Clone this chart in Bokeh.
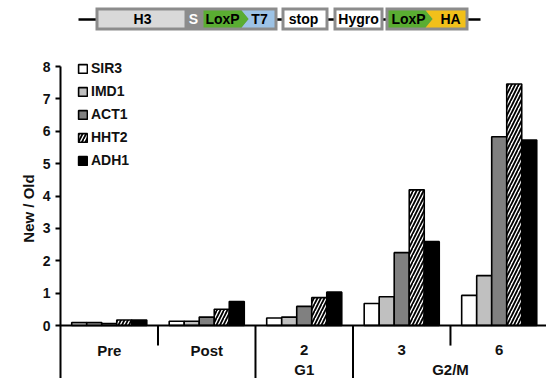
from bokeh.plotting import figure
from bokeh.models import Range1d, FixedTicker, Legend, LegendItem
from bokeh.layouts import column
from bokeh.core.properties import value
from bokeh.embed import file_html
from bokeh.resources import INLINE

# ---------------- data ----------------
groups = ["Pre", "Post", "2", "3", "6"]
phases = ["", "", "G1", "G2/M", "G2/M"]
series_names = ["SIR3", "IMD1", "ACT1", "HHT2", "ADH1"]
SIR3 = [0.09, 0.13, 0.23, 0.68, 0.93]
IMD1 = [0.09, 0.13, 0.26, 0.89, 1.54]
ACT1 = [0.06, 0.26, 0.59, 2.25, 5.83]
HHT2 = [0.17, 0.50, 0.86, 4.19, 7.46]
ADH1 = [0.17, 0.74, 1.03, 2.59, 5.73]
y_ticks = [0, 1, 2, 3, 4, 5, 6, 7, 8]
y_label = "New / Old"
construct_parts = ["H3", "S", "LoxP", "T7", "stop", "Hygro", "LoxP", "HA"]

FONT = "Liberation Sans"
W = 546
LEFT = 60

# ---------------- construct diagram ----------------
d = figure(width=W, height=38, x_range=Range1d(LEFT, W), y_range=Range1d(38, 0),
           output_backend="svg", toolbar_location=None, min_border=0,
           min_border_left=LEFT, x_axis_location=None, y_axis_location=None)
d.outline_line_color = None
d.grid.visible = False
d.background_fill_color = None
d.border_fill_color = None

d.line([78, 480], [19, 19], line_color="black", line_width=2.5)
d.quad(left=[95, 281, 333, 385], right=[277, 328, 383, 468], top=[7] * 4, bottom=[30] * 4,
       fill_color="#8c8c8c", line_color=None)
d.quad(left=[98, 284, 336], right=[184, 325, 380], top=[10] * 3, bottom=[27] * 3,
       fill_color=["#d9d9d9", "white", "white"], line_color=None)
d.patches(xs=[[241, 274, 274, 241, 248], [203, 241, 248, 241, 203],
              [425, 465, 465, 425, 432], [388, 425, 432, 425, 388]],
          ys=[[10, 10, 27, 27, 18.5], [10, 10, 18.5, 27, 27], [10, 10, 27, 27, 18.5], [10, 10, 18.5, 27, 27]],
          fill_color=["#9dc3e6", "#5aad32", "#f2c01a", "#5aad32"], line_color=None)
d.text(x=[142, 193, 222, 259, 303, 358, 408, 450], y=[18.5] * 8, text=construct_parts,
       text_color=["black", "white", "black", "black", "black", "black", "black", "black"],
       text_align="center", text_baseline="middle", text_font=value(FONT),
       text_font_style="bold", text_font_size="14px")

# ---------------- bar chart ----------------
y_top = 8.865
y_bot = -1.637
p = figure(width=W, height=340, x_range=Range1d(0, 4.985), y_range=Range1d(y_bot, y_top),
           output_backend="svg", toolbar_location=None, x_axis_location=None,
           min_border_left=LEFT, min_border_right=0, min_border_top=0, min_border_bottom=0)
p.outline_line_color = None
p.grid.visible = False

bar_w = 0.154
series = [SIR3, IMD1, ACT1, HHT2, ADH1]
fills = ["white", "#c0c0c0", "#808080", "white", "black"]
hatches = [None, None, None, "/", None]
items = []
for j, (name, vals) in enumerate(zip(series_names, series)):
    xs = [i + 0.5 + (j - 2) * bar_w for i in range(len(groups))]
    kw = dict(x=xs, top=vals, width=bar_w, bottom=0, fill_color=fills[j],
              line_color="black", line_width=1.6)
    if hatches[j]:
        kw.update(hatch_pattern=hatches[j], hatch_color="black", hatch_weight=1.8, hatch_scale=7)
    r = p.vbar(**kw)
    items.append(LegendItem(label=name, renderers=[r]))

# baseline and group dividers
n = len(groups)
p.segment(x0=[0], y0=[0], x1=[n], y1=[0], line_color="black", line_width=2)
div_x, div_y1 = [], []
for i in range(1, n):
    same = phases[i] == phases[i - 1]
    div_x.append(i)
    div_y1.append(-0.62 if same else y_bot)
p.segment(x0=div_x, y0=[0] * len(div_x), x1=div_x, y1=div_y1, line_color="black", line_width=2)

# category labels
p.text(x=[i + 0.5 for i in range(n)], y=[-0.77] * n, text=groups,
       text_align="center", text_baseline="middle", text_font=value(FONT),
       text_font_style="bold", text_font_size="15px", text_color="#111111")
ph_names, ph_x = [], []
for ph in dict.fromkeys(phases):
    if not ph:
        continue
    idx = [i for i, q in enumerate(phases) if q == ph]
    ph_names.append(ph)
    ph_x.append(sum(idx) / len(idx) + 0.5)
p.text(x=ph_x, y=[-1.36] * len(ph_x), text=ph_names,
       text_align="center", text_baseline="middle", text_font=value(FONT),
       text_font_style="bold", text_font_size="15px", text_color="#111111")

# y axis
ax = p.yaxis[0]
ax.ticker = FixedTicker(ticks=y_ticks)
ax.bounds = (y_bot, 8)
ax.axis_line_width = 2
ax.major_tick_line_width = 2
ax.major_tick_out = 5
ax.major_tick_in = 0
ax.minor_tick_out = 0
ax.minor_tick_in = 0
ax.major_label_standoff = 5
ax.major_label_text_font = FONT
ax.major_label_text_font_style = "bold"
ax.major_label_text_font_size = "14px"
ax.major_label_text_color = "#111111"
ax.axis_label = y_label
ax.axis_label_text_font = FONT
ax.axis_label_text_font_style = "bold"
ax.axis_label_text_font_size = "15px"
ax.axis_label_text_color = "#111111"
ax.axis_label_standoff = 3

legend = Legend(items=items, location=(17, 210), orientation="vertical",
                glyph_width=11, glyph_height=11, label_height=16, spacing=7,
                label_standoff=3, padding=0, margin=0,
                border_line_color=None, background_fill_alpha=0,
                label_text_font=FONT, label_text_font_style="bold",
                label_text_font_size="14px", label_text_color="#111111")
p.add_layout(legend)

layout = column(d, p, spacing=0)
open("out.html", "w").write(file_html(layout, INLINE))
